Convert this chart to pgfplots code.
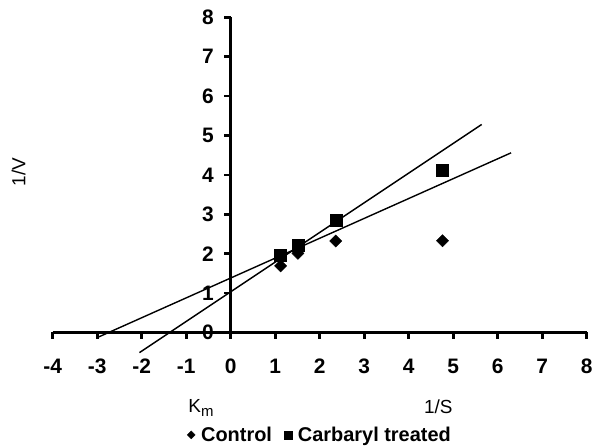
\documentclass[border=0pt]{standalone}
\usepackage{fontspec}
\setmainfont{Liberation Sans}
\usepackage{pgfplots}
\pgfplotsset{compat=1.18}
\begin{document}
\begin{tikzpicture}[x=1bp,y=1bp]
\begin{axis}[
  at={(0,0)}, anchor=south west,
  scale only axis, width=534bp, height=315.2bp,
  xmin=-4, xmax=8, ymin=0, ymax=8,
  axis lines=middle,
  axis line style={-, line width=3.2bp},
  clip=false,
  xtick={-4,-3,-2,-1,0,1,2,3,4,5,6,7,8},
  ytick={0,1,2,3,4,5,6,7,8},
  xticklabels={-4,-3,-2,-1,0,1,2,3,4,5,6,7,8},
  yticklabels={0,1,2,3,4,5,6,7,8},
  hide obscured x ticks=false, hide obscured y ticks=false,
  tick align=outside, major tick length=6.5bp,
  tick style={line width=2.6bp, black},
  ticklabel style={font=\bfseries\fontsize{21}{23}\selectfont},
  xticklabel style={anchor=center, yshift=-27bp},
  yticklabel style={anchor=east, xshift=-7bp},
  xlabel={1/S},
  every axis x label/.style={at={(axis description cs:0.7221,-0.2364)}, anchor=center, font=\fontsize{19}{21}\selectfont},
  ylabel={1/V},
  every axis y label/.style={at={(axis description cs:-0.064,0.509)}, anchor=center, rotate=90, font=\fontsize{19}{21}\selectfont},
  legend style={at={(0.5006,-0.325)}, anchor=center, draw=none, fill=none,
    font=\bfseries\fontsize{20}{22}\selectfont, legend columns=2,
    /tikz/every odd column/.append style={column sep=4bp},
    /tikz/every even column/.append style={column sep=10bp}},
  legend cell align=left,
  legend image code/.code={\draw[#1] plot coordinates {(0bp,0bp)};},
]
\addplot[only marks, mark=square*, mark size=4.3bp, mark options={rotate=45, fill=black}, black,
  legend image post style={mark size=2.8bp}]
  coordinates {(1.12,1.69) (1.51,2.01) (2.36,2.32) (4.76,2.33)};
\addlegendentry{Control}
\addplot[only marks, mark=square*, mark size=6bp, black,
  legend image post style={mark size=4bp}]
  coordinates {(1.12,1.97) (1.51,2.22) (2.36,2.84) (4.76,4.12)};
\addlegendentry{Carbaryl treated}
\addplot[black, line width=1.4bp, forget plot] coordinates {(-2.05,-0.51) (5.64,5.28)};
\addplot[black, line width=1.4bp, forget plot] coordinates {(-3,-0.13) (6.30,4.56)};
\node[font=\fontsize{19}{21}\selectfont] at (axis description cs:0.2777,-0.2395) {K\raisebox{-0.35ex}{\fontsize{15}{15}\selectfont m}};
\end{axis}
\pgfresetboundingbox
\path[use as bounding box] (-52.7,-113.5) rectangle (545.3,332.5);
\end{tikzpicture}
\end{document}
